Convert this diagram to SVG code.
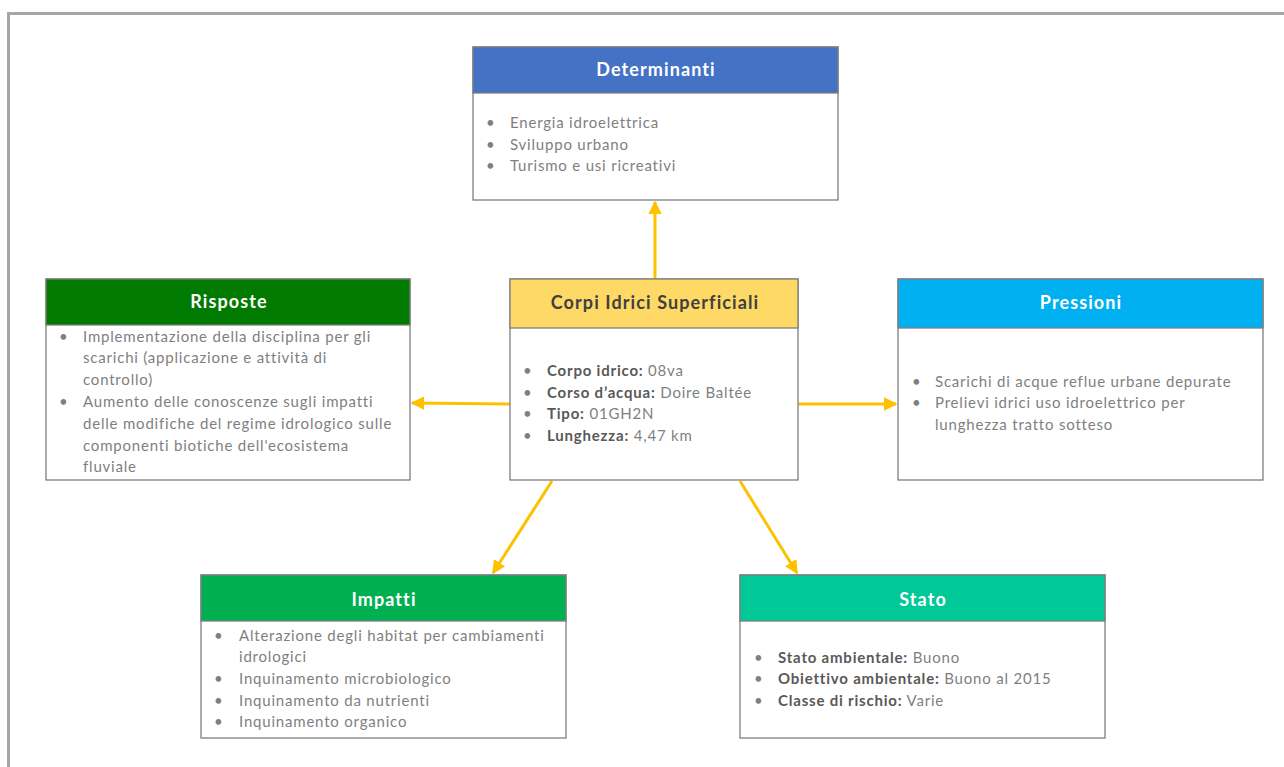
<svg xmlns="http://www.w3.org/2000/svg" width="1284" height="767" viewBox="0 0 1284 767">
  <defs>
    <marker id="arrow" viewBox="0 0 10 10" refX="9" refY="5" markerWidth="4.5" markerHeight="4.5" orient="auto" markerUnits="strokeWidth">
      <path d="M0,0 L10,5 L0,10 Z" fill="#ffc000"/>
    </marker>
    <style>
      .frame { fill: none; stroke: #a6a6a6; stroke-width: 3; }
      .box { fill: #ffffff; stroke: #7f7f7f; stroke-width: 1.3; }
      .title { font-family: Lato, "Liberation Sans", sans-serif; font-weight: bold; font-size: 18px; letter-spacing: 1.1px; fill: #ffffff; text-anchor: middle; }
      .body { font-family: Lato, "Liberation Sans", sans-serif; font-size: 15px; letter-spacing: 0.8px; fill: #7f7f7f; }
      .body .b { font-weight: bold; fill: #595959; }
      .conn { stroke: #ffc000; stroke-width: 3; fill: none; marker-end: url(#arrow); }
    </style>
  </defs>

  <rect width="1284" height="767" fill="#ffffff"/>
  <!-- page frame -->
  <path class="frame" d="M8.5,767 L8.5,13.5 L1284,13.5"/>

  <!-- connectors -->
  <g id="connectors">
    <line class="conn" x1="655" y1="279" x2="655" y2="202"/>
    <line class="conn" x1="510" y1="404" x2="412" y2="403"/>
    <line class="conn" x1="798" y1="404" x2="896" y2="404"/>
    <line class="conn" x1="552" y1="481" x2="493" y2="573"/>
    <line class="conn" x1="740" y1="481" x2="797" y2="573"/>
  </g>

  <!-- Determinanti -->
  <g id="determinanti">
    <rect class="box" x="473" y="47" width="365" height="153"/>
    <rect x="473" y="47" width="365" height="46" fill="#4472c4" stroke="#7f7f7f" stroke-width="1.3"/>
    <text class="title" x="656" y="76">Determinanti</text>
    <g class="body">
      <text x="486" y="128">•</text><text x="510" y="128">Energia idroelettrica</text>
      <text x="486" y="150">•</text><text x="510" y="150">Sviluppo urbano</text>
      <text x="486" y="171">•</text><text x="510" y="171">Turismo e usi ricreativi</text>
    </g>
  </g>

  <!-- Risposte -->
  <g id="risposte">
    <rect class="box" x="46" y="279" width="364" height="201"/>
    <rect x="46" y="279" width="364" height="46" fill="#007a00" stroke="#7f7f7f" stroke-width="1.3"/>
    <text class="title" x="229" y="308">Risposte</text>
    <g class="body">
      <text x="59" y="342">•</text><text x="83" y="342">Implementazione della disciplina per gli</text>
      <text x="83" y="363">scarichi (applicazione e attività di</text>
      <text x="83" y="385">controllo)</text>
      <text x="59" y="407">•</text><text x="83" y="407">Aumento  delle conoscenze sugli impatti</text>
      <text x="83" y="429">delle modifiche del regime idrologico sulle</text>
      <text x="83" y="451">componenti biotiche dell'ecosistema</text>
      <text x="83" y="472">fluviale</text>
    </g>
  </g>

  <!-- Corpi Idrici Superficiali -->
  <g id="corpi-idrici">
    <rect class="box" x="510" y="279" width="288" height="201"/>
    <rect x="510" y="279" width="288" height="49" fill="#ffd966" stroke="#7f7f7f" stroke-width="1.3"/>
    <text class="title" x="655" y="309" style="fill:#404040">Corpi Idrici Superficiali</text>
    <g class="body">
      <text x="523" y="376">•</text><text x="547" y="376"><tspan class="b">Corpo idrico:</tspan> 08va</text>
      <text x="523" y="398">•</text><text x="547" y="398"><tspan class="b">Corso d’acqua:</tspan>  Doire Baltée</text>
      <text x="523" y="419">•</text><text x="547" y="419"><tspan class="b">Tipo:</tspan>  01GH2N</text>
      <text x="523" y="441">•</text><text x="547" y="441"><tspan class="b">Lunghezza:</tspan> 4,47 km</text>
    </g>
  </g>

  <!-- Pressioni -->
  <g id="pressioni">
    <rect class="box" x="898" y="279" width="365" height="201"/>
    <rect x="898" y="279" width="365" height="49" fill="#00b0f0" stroke="#7f7f7f" stroke-width="1.3"/>
    <text class="title" x="1081" y="309">Pressioni</text>
    <g class="body">
      <text x="912" y="387">•</text><text x="935" y="387">Scarichi di acque reflue urbane depurate</text>
      <text x="912" y="408">•</text><text x="935" y="408">Prelievi idrici uso idroelettrico per</text>
      <text x="935" y="430">lunghezza tratto sotteso</text>
    </g>
  </g>

  <!-- Impatti -->
  <g id="impatti">
    <rect class="box" x="201" y="575" width="365" height="163"/>
    <rect x="201" y="575" width="365" height="46" fill="#00b050" stroke="#7f7f7f" stroke-width="1.3"/>
    <text class="title" x="384" y="606">Impatti</text>
    <g class="body">
      <text x="214" y="641">•</text><text x="239" y="641">Alterazione degli habitat per cambiamenti</text>
      <text x="239" y="662">idrologici</text>
      <text x="214" y="684">•</text><text x="239" y="684">Inquinamento microbiologico</text>
      <text x="214" y="706">•</text><text x="239" y="706">Inquinamento da nutrienti</text>
      <text x="214" y="727">•</text><text x="239" y="727">Inquinamento organico</text>
    </g>
  </g>

  <!-- Stato -->
  <g id="stato">
    <rect class="box" x="740" y="575" width="365" height="163"/>
    <rect x="740" y="575" width="365" height="46" fill="#00c896" stroke="#7f7f7f" stroke-width="1.3"/>
    <text class="title" x="923" y="606">Stato</text>
    <g class="body">
      <text x="754" y="663">•</text><text x="778" y="663"><tspan class="b">Stato ambientale:</tspan> Buono</text>
      <text x="754" y="684">•</text><text x="778" y="684"><tspan class="b">Obiettivo ambientale:</tspan> Buono al 2015</text>
      <text x="754" y="706">•</text><text x="778" y="706"><tspan class="b">Classe di rischio:</tspan> Varie</text>
    </g>
  </g>
</svg>
